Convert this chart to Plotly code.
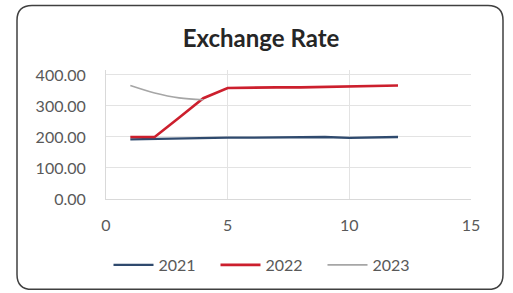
import plotly.graph_objects as go

months = [1, 2, 3, 4, 5, 6, 7, 8, 9, 10, 11, 12]
rate_2021 = [192, 194, 195, 196, 198, 198, 198, 198, 200, 197, 198, 200]
rate_2022 = [200, 200, 262, 325, 358, 360, 360, 360, 362, 363, 364, 366]
months_2023 = [1, 2, 3, 4]
rate_2023 = [366, 342, 326, 320]
x_ticks = [0, 5, 10, 15]
y_ticks = [0, 100, 200, 300, 400]

W, H = 513, 293
L, R, T, B = 106, 42, 70, 93
pw, ph = W - L - R, H - T - B

def px(x):
    return (x - L) / pw

def py(y):
    return (H - B - y) / ph

fig = go.Figure()
fig.add_trace(go.Scatter(x=months, y=rate_2021, mode="lines", name="2021",
                         line=dict(color="#2f4a6e", width=2.3)))
fig.add_trace(go.Scatter(x=months, y=rate_2022, mode="lines", name="2022",
                         line=dict(color="#cc1f2d", width=2.6)))
fig.add_trace(go.Scatter(x=months_2023, y=rate_2023, mode="lines", name="2023",
                         line=dict(color="#a6a6a6", width=1.6, shape="spline")))

# rounded border
x0, x1, y0, y1, r = 17, 503, 5, 291, 15
path = (f"M {px(x0 + r)},{py(y0)} L {px(x1 - r)},{py(y0)} "
        f"Q {px(x1)},{py(y0)} {px(x1)},{py(y0 + r)} "
        f"L {px(x1)},{py(y1 - r)} Q {px(x1)},{py(y1)} {px(x1 - r)},{py(y1)} "
        f"L {px(x0 + r)},{py(y1)} Q {px(x0)},{py(y1)} {px(x0)},{py(y1 - r)} "
        f"L {px(x0)},{py(y0 + r)} Q {px(x0)},{py(y0)} {px(x0 + r)},{py(y0)} Z")
fig.add_shape(type="path", path=path, xref="paper", yref="paper",
              line=dict(color="#404040", width=1.5), layer="below")

fig.update_layout(
    width=W, height=H,
    margin=dict(l=L, r=R, t=T, b=B),
    paper_bgcolor="white", plot_bgcolor="white",
    font=dict(family="Lato, Open Sans, sans-serif", color="#595959", size=16),
    title=dict(text="<b>Exchange Rate</b>", x=px(261), xanchor="center",
               xref="paper", y=1 - 39 / H, yanchor="middle",
               font=dict(size=24, color="#262626")),
    showlegend=True,
    legend=dict(orientation="h", x=px(269), xanchor="center", y=py(265),
                yanchor="middle", font=dict(size=16, color="#595959"),
                itemwidth=40, tracegroupgap=0,
                entrywidth=52, entrywidthmode="pixels"),
    xaxis=dict(range=[0, 15], tickvals=x_ticks, ticktext=[str(v) for v in x_ticks],
               showgrid=True, gridcolor="#e3e3e3", zeroline=False,
               showline=True, linecolor="#d9d9d9", ticks="", ticklabelstandoff=12),
    yaxis=dict(range=[0, 416], tickvals=y_ticks,
               ticktext=[f"{v:.2f}" for v in y_ticks],
               showgrid=True, gridcolor="#e3e3e3", zeroline=False,
               showline=True, linecolor="#d9d9d9", ticks="", ticklabelstandoff=16),
)

fig.write_html("out.html", config={"displayModeBar": False},
               post_script="document.body.style.margin='0';document.body.style.padding='0';")
